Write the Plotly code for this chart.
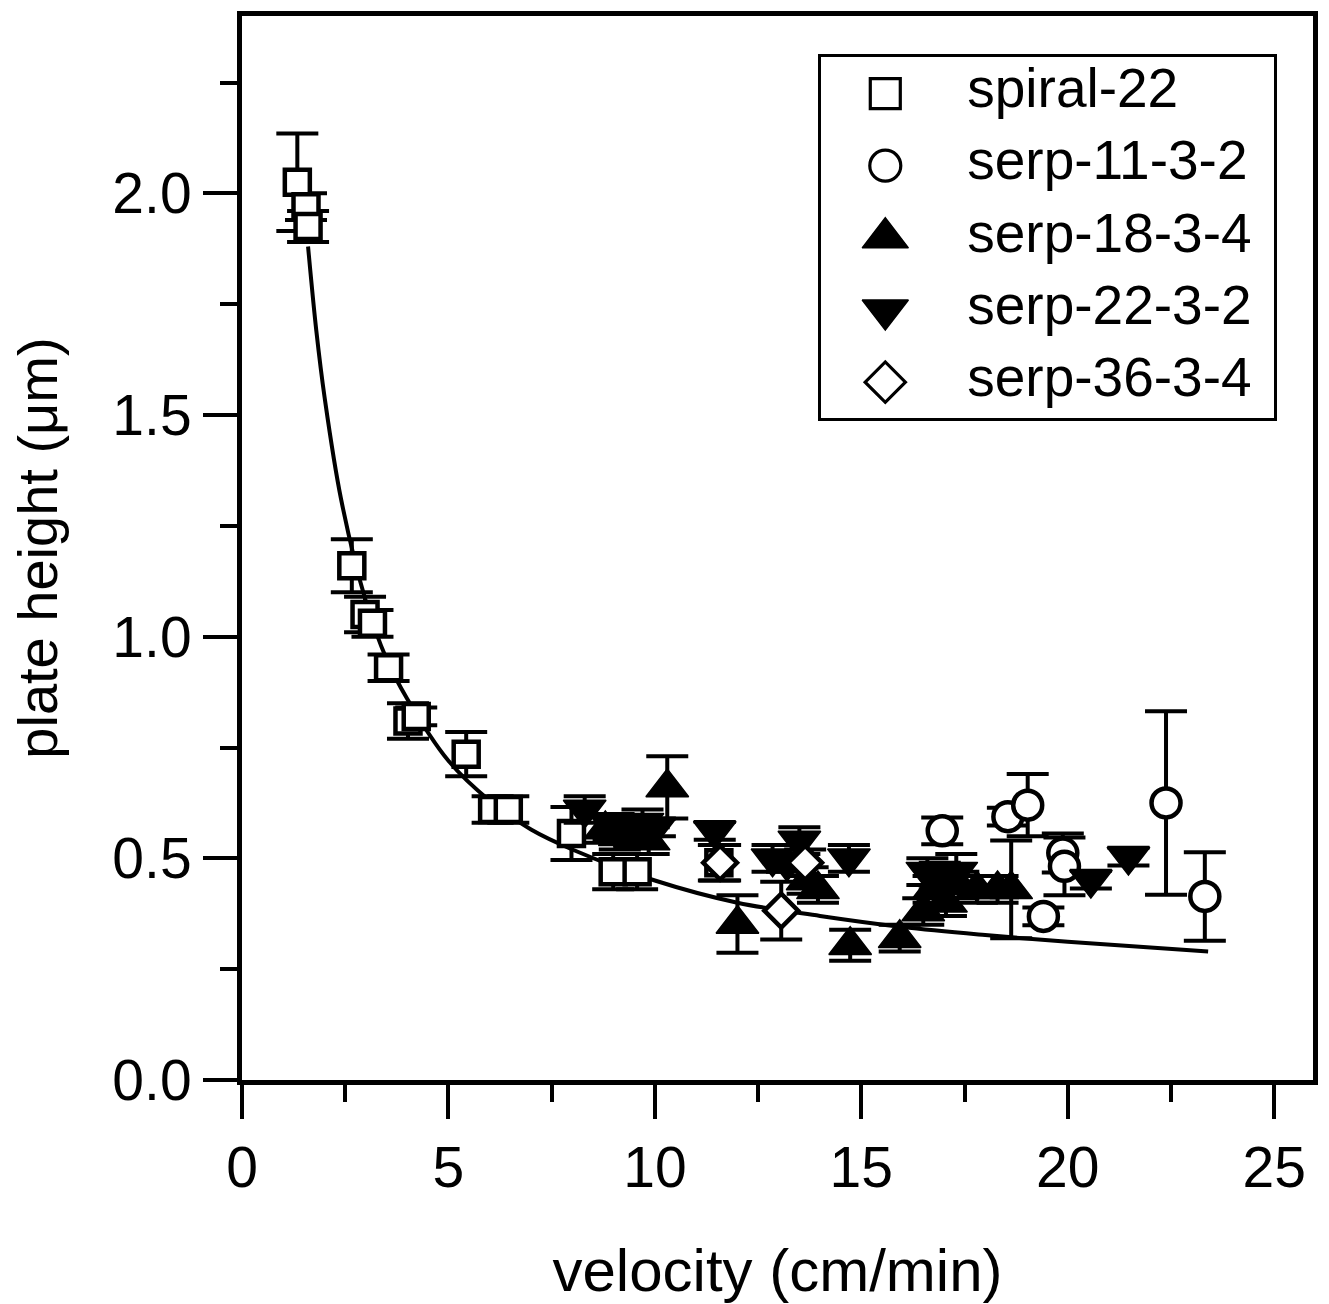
import plotly.graph_objects as go

# ---------------- data ----------------
# spiral-22 (open squares)
sq_x = [1.34, 1.55, 1.60, 2.66, 2.98, 3.16, 3.55, 4.02, 4.22, 5.43, 6.07, 6.45, 7.98, 8.99, 9.57, 11.55]
sq_y = [2.025, 1.97, 1.925, 1.16, 1.05, 1.03, 0.93, 0.81, 0.82, 0.735, 0.61, 0.61, 0.556, 0.47, 0.47, 0.49]
sq_e = [0.11, 0.03, 0.035, 0.06, 0.04, 0.03, 0.03, 0.04, 0.02, 0.05, 0.03, 0.03, 0.06, 0.04, 0.04, 0.04]

# serp-11-3-2 (open circles)
ci_x = [16.96, 18.55, 19.03, 19.41, 19.88, 19.92, 22.38, 23.32]
ci_y = [0.562, 0.594, 0.62, 0.369, 0.512, 0.482, 0.625, 0.414]
ci_e = [0.03, 0.02, 0.07, 0.02, 0.044, 0.065, 0.207, 0.10]

# serp-18-3-4 (filled up triangles)
tu_x = [8.8, 9.15, 9.5, 9.85, 10.3, 12.0, 13.7, 13.95, 14.73, 15.93, 16.5, 16.75, 17.05, 17.35, 17.8, 18.3, 18.63]
tu_y = [0.565, 0.55, 0.555, 0.54, 0.66, 0.352, 0.45, 0.43, 0.304, 0.32, 0.38, 0.43, 0.40, 0.44, 0.43, 0.43, 0.43]
tu_e = [0.03, 0.03, 0.03, 0.03, 0.07, 0.065, 0.03, 0.03, 0.035, 0.03, 0.03, 0.03, 0.03, 0.03, 0.03, 0.03, 0.11]

# serp-22-3-2 (filled down triangles)
td_x = [8.3, 9.0, 9.35, 9.7, 10.0, 11.45, 12.85, 13.2, 13.5, 14.7, 16.6, 16.9, 17.3, 20.56, 21.47]
td_y = [0.61, 0.57, 0.565, 0.58, 0.57, 0.562, 0.50, 0.49, 0.54, 0.50, 0.47, 0.46, 0.47, 0.452, 0.504]
td_e = [0.03, 0.03, 0.02, 0.03, 0.02, 0.02, 0.03, 0.02, 0.03, 0.03, 0.03, 0.03, 0.04, 0.02, 0.02]

# serp-36-3-4 (open diamonds)
di_x = [11.58, 13.06, 13.64]
di_y = [0.49, 0.382, 0.49]
di_e = [0.04, 0.065, 0.03]

# fitted curve, points
fit_x = [1.6, 1.8, 2.0, 2.4, 3.0, 3.5, 4.0, 5.0, 6.0, 7.0, 8.0, 10, 12, 14, 16, 18, 20, 23.4]
fit_y = [1.88, 1.69, 1.54, 1.31, 1.08, 0.95, 0.86, 0.72, 0.63, 0.565, 0.52, 0.45, 0.40, 0.37, 0.345, 0.327, 0.312, 0.29]

series_names = ["spiral-22", "serp-11-3-2", "serp-18-3-4", "serp-22-3-2", "serp-36-3-4"]

x_ticks = [0, 5, 10, 15, 20, 25]
y_ticks = [0.0, 0.5, 1.0, 1.5, 2.0]

# ---------------- styles ----------------
FONT = "Arial, 'Liberation Sans', Helvetica, sans-serif"
styles = [
    dict(symbol="square", size=25, color="white", lw=4.5, leg=30, leglw=3.2),
    dict(symbol="circle", size=29, color="white", lw=4.5, leg=31, leglw=3.2),
    dict(symbol="triangle-up", size=37, color="black", lw=1.5, leg=40, leglw=1.5),
    dict(symbol="triangle-down", size=37, color="black", lw=1.5, leg=40, leglw=1.5),
    dict(symbol="diamond", size=26, color="white", lw=4.5, leg=31, leglw=3.2),
]
data_sets = [(sq_x, sq_y, sq_e), (ci_x, ci_y, ci_e), (tu_x, tu_y, tu_e), (td_x, td_y, td_e), (di_x, di_y, di_e)]

fig = go.Figure()

fig.add_trace(go.Scatter(x=fit_x, y=fit_y, mode="lines", line=dict(color="black", width=4, shape="spline"),
                         showlegend=False, hoverinfo="skip"))

for name, (xs, ys, es), st in zip(series_names, data_sets, styles):
    fig.add_trace(go.Scatter(
        x=xs, y=ys, mode="markers", name=name, showlegend=False,
        marker=dict(symbol=st["symbol"], size=st["size"], color=st["color"],
                    line=dict(color="black", width=st["lw"])),
        error_y=dict(type="data", array=es, visible=True, color="black", thickness=4, width=21),
    ))

# ---------------- custom legend (large symbols) ----------------
n = len(series_names)
row_y = [1 - (i + 0.5) / n for i in range(n)]
for i, (name, st) in enumerate(zip(series_names, styles)):
    fig.add_trace(go.Scatter(
        x=[0.141], y=[row_y[i]], xaxis="x2", yaxis="y2", mode="markers", showlegend=False, hoverinfo="skip",
        marker=dict(symbol=st["symbol"], size=st["leg"], color=st["color"],
                    line=dict(color="black", width=st["leglw"])),
    ))
fig.add_trace(go.Scatter(
    x=[0.322] * n, y=row_y, xaxis="x2", yaxis="y2", mode="text", text=series_names,
    textposition="middle right", textfont=dict(family=FONT, size=55, color="black"),
    showlegend=False, hoverinfo="skip",
))

axis_common = dict(
    showline=True, linecolor="black", linewidth=5, mirror=True,
    ticks="outside", ticklen=34, tickwidth=4, tickcolor="black",
    showgrid=False, zeroline=False,
    tickfont=dict(family=FONT, size=57, color="black"),
)

fig.update_layout(
    width=1329, height=1304,
    margin=dict(l=242, r=13, t=11, b=218),
    paper_bgcolor="white", plot_bgcolor="white",
    showlegend=False,
    xaxis=dict(
        range=[0, 25.94], tickvals=x_ticks, ticktext=[str(v) for v in x_ticks],
        minor=dict(dtick=2.5, ticks="outside", ticklen=17, tickwidth=4, tickcolor="black", showgrid=False),
        title=dict(text="velocity (cm/min)", font=dict(family=FONT, size=60, color="black"), standoff=52),
        **axis_common,
    ),
    yaxis=dict(
        range=[0, 2.40], tickvals=y_ticks, ticktext=[f"{v:.1f}" for v in y_ticks],
        minor=dict(dtick=0.25, ticks="outside", ticklen=17, tickwidth=4, tickcolor="black", showgrid=False),
        title=dict(text="plate height (μm)", font=dict(family=FONT, size=56, color="black"), standoff=38),
        **axis_common,
    ),
    xaxis2=dict(domain=[0.541, 0.964], range=[0, 1], anchor="y2", showline=True, mirror=True,
                linecolor="black", linewidth=2.5, showticklabels=False, ticks="", showgrid=False, zeroline=False),
    yaxis2=dict(domain=[0.622, 0.961], range=[0, 1], anchor="x2", showline=True, mirror=True,
                linecolor="black", linewidth=2.5, showticklabels=False, ticks="", showgrid=False, zeroline=False),
)

fig.write_html("out.html", config={"displayModeBar": False},
               post_script="document.body.style.margin='0px';document.body.style.padding='0px';")
